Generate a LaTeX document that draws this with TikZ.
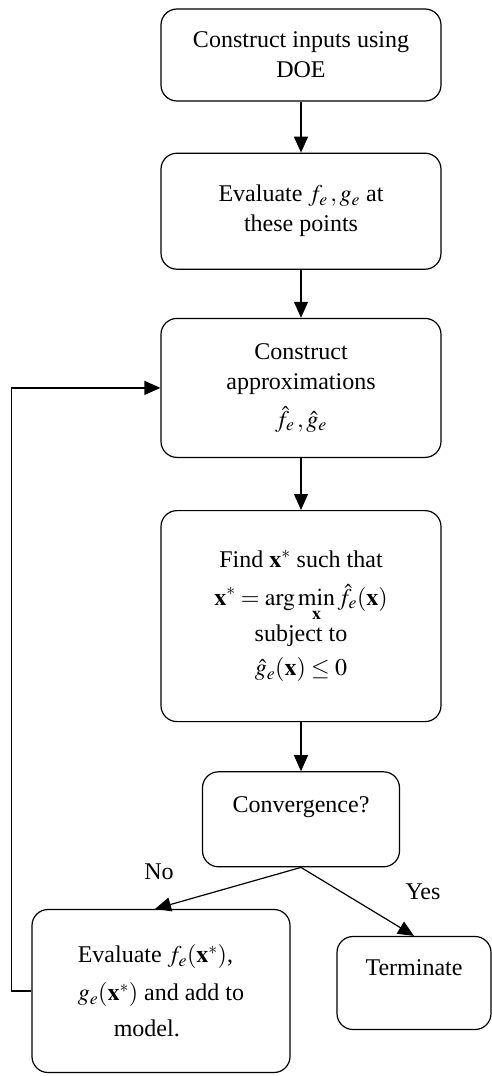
\documentclass[tikz,border=0pt]{standalone}
\usepackage{amsmath}
\usepackage{mathptmx}
\usepackage{fontspec}
\setmainfont{Liberation Serif}
\usepackage{tikz}
\usetikzlibrary{positioning,arrows.meta}
\tikzset{
  line/.style={-{Triangle[length=16pt, width=14pt]}, line width=1.2pt},
  box/.style={draw, line width=1.2pt, rounded corners=16pt, align=center, inner sep=3pt, font=\fontsize{24}{30}\selectfont},
  widebox/.style={box, minimum width=280pt},
  answer/.style={font=\fontsize{24}{30}\selectfont}
}

\begin{document}
\begin{tikzpicture}[node distance=50pt, x=1pt, y=-1pt]
  \useasboundingbox (0,0) rectangle (492,1076);
  \node[widebox, minimum height=92pt] (doe) at (301,55) {Construct inputs using\\DOE};
  \node[widebox, minimum height=116pt, below=51pt of doe] (evalpts) {Evaluate $f_e\,, g_e$ at\\these points};
  \node[widebox, minimum height=139pt, below=48pt of evalpts] (approx) {Construct\\approximations\\[8pt]$\hat{f}_e\,, \hat{g}_e$};
  \node[widebox, minimum height=211pt, below=52pt of approx] (optim) {Find $\mathbf{x}^*$ such that\\[8pt]$\displaystyle \mathbf{x}^* = \arg\min_{\mathbf{x}} \hat{f}_e(\mathbf{x})$\\[2pt]subject to\\[4pt]$\hat{g}_e(\mathbf{x}) \le 0$};
  \node[box, minimum width=197pt, minimum height=95pt, below=49pt of optim] (conv) {Convergence?\\~};
  \node[box, align=left, minimum width=258pt, minimum height=163pt] (update) at (161,991) {Evaluate $f_e(\mathbf{x}^*)$,\\[8pt]$g_e(\mathbf{x}^*)$ and add to\\[6pt]\hspace{36pt}model.};
  \node[box, minimum width=154pt, minimum height=93pt] (stop) at (414,983) {Terminate\\~};

  \node[answer] (no) at (159,872) {No};
  \node[answer] (yes) at (423,892) {Yes};

  \draw[line] (doe) -- (evalpts);
  \draw[line] (evalpts) -- (approx);
  \draw[line] (approx) -- (optim);
  \draw[line] (optim) -- (conv);
  \draw[line] (conv.south) -- ([xshift=-6pt]update.north);
  \draw[line] (conv.south) -- (stop.north);
  \draw[line] (update.west) -- ++(-20,0) |- (approx.west);
\end{tikzpicture}
\end{document}
